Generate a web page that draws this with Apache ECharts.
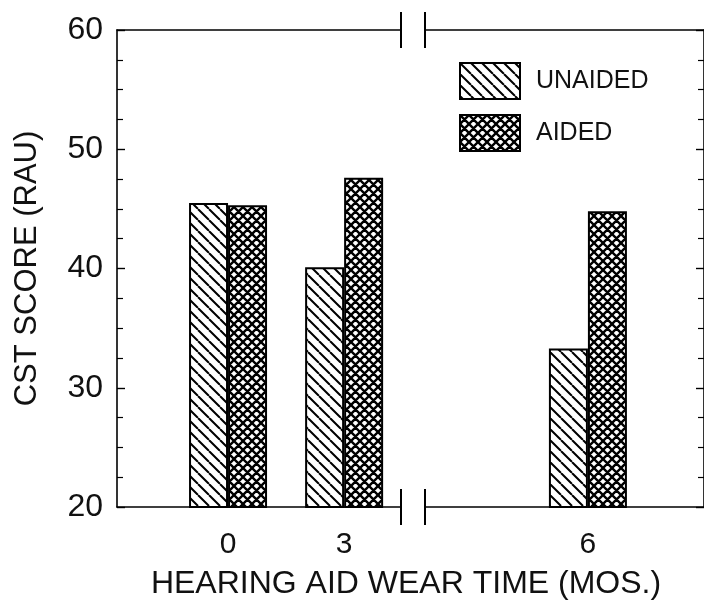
<!DOCTYPE html>
<html>
<head>
<meta charset="utf-8">
<script src="https://cdn.jsdelivr.net/npm/echarts@6/dist/echarts.min.js"></script>
<style>
  html, body { margin: 0; padding: 0; background: #fff; }
  #chart { width: 704px; height: 600px; }
</style>
</head>
<body>
<div id="chart"></div>
<script>
// Wear-time groups (months) and scores
const months = [0, 3, 6];
const unaided = [45.5, 40.1, 33.3];
const aided = [45.3, 47.6, 44.8];
const seriesNames = ['UNAIDED', 'AIDED'];
const xTitle = 'HEARING AID WEAR TIME (MOS.)';
const yTitle = 'CST SCORE (RAU)';
// months up to this value sit left of the axis break
const lastBeforeBreak = 3;

const FONT = '"Liberation Sans", Arial, Helvetica, sans-serif';
const INK = '#111';

// Fill patterns: diagonal hatch and diamond cross-hatch
function hatchPattern() {
  const s = 11;
  const c = document.createElement('canvas');
  c.width = c.height = s;
  const g = c.getContext('2d');
  g.fillStyle = '#fff';
  g.fillRect(0, 0, s, s);
  g.strokeStyle = '#000';
  g.lineWidth = 2;
  g.beginPath();
  for (const k of [-1, 0, 1]) {
    g.moveTo(k * s, 0);
    g.lineTo(k * s + s, s);
  }
  g.stroke();
  return c;
}
function crossPattern() {
  const s = 9;
  const c = document.createElement('canvas');
  c.width = c.height = s;
  const g = c.getContext('2d');
  g.fillStyle = '#fff';
  g.fillRect(0, 0, s, s);
  g.strokeStyle = '#000';
  g.lineWidth = 2.4;
  g.beginPath();
  for (const k of [-1, 0, 1]) {
    g.moveTo(k * s, 0);
    g.lineTo(k * s + s, s);
  }
  for (const k of [0, 1, 2]) {
    g.moveTo(k * s, 0);
    g.lineTo(k * s - s, s);
  }
  g.stroke();
  return c;
}
const fills = [
  { image: hatchPattern(), repeat: 'repeat' },
  { image: crossPattern(), repeat: 'repeat' }
];

const leftIdx = months.map((m, i) => i).filter(i => months[i] <= lastBeforeBreak);
const rightIdx = months.map((m, i) => i).filter(i => months[i] > lastBeforeBreak);
const pairs = (vals, idx) => idx.map(i => [months[i], vals[i]]);

const lineStyle = { color: '#000', width: 1.6 };
const breakMarkSize = [36, 2];

function xAxisDef(grid, pos, min, max, labels, symbol) {
  return {
    gridIndex: grid, type: 'value', position: pos, min: min, max: max,
    axisLine: { show: true, onZero: false, lineStyle: lineStyle, symbol: symbol, symbolSize: breakMarkSize },
    axisTick: { show: false },
    splitLine: { show: false },
    axisLabel: labels ? {
      show: true, customValues: labels, fontSize: 30, margin: 23,
      color: INK, fontFamily: FONT
    } : { show: false }
  };
}

function yAxisDef(grid, pos, withLabels) {
  const ax = {
    gridIndex: grid, type: 'value', position: pos,
    min: 20, max: 60, interval: 10,
    axisLine: { show: true, onZero: false, lineStyle: lineStyle },
    axisTick: { show: true, inside: true, length: 8, lineStyle: { color: '#000', width: 1.4 } },
    minorTick: { show: true, splitNumber: 4, length: 6, lineStyle: { color: '#000', width: 1.2 } },
    splitLine: { show: false },
    axisLabel: withLabels ? { fontSize: 32, margin: 14, color: INK, fontFamily: FONT } : { show: false }
  };
  if (withLabels) {
    ax.name = yTitle;
    ax.nameLocation = 'middle';
    ax.nameGap = 74;
    ax.nameTextStyle = { fontSize: 31, color: INK, fontFamily: FONT };
  }
  return ax;
}

function barSeries(si, vals, idx, axisIdx) {
  return {
    name: seriesNames[si], type: 'bar',
    xAxisIndex: axisIdx, yAxisIndex: axisIdx,
    data: pairs(vals, idx),
    barWidth: 39, barGap: '0%',
    itemStyle: { color: fills[si], borderColor: '#000', borderWidth: 2 },
    emphasis: { disabled: true }
  };
}

const chart = echarts.init(document.getElementById('chart'));
chart.setOption({
  animation: false,
  backgroundColor: '#fff',
  grid: [
    { left: 117, right: 303, top: 30, bottom: 93 },
    { left: 425, right: -2, top: 30, bottom: 93 }
  ],
  xAxis: [
    xAxisDef(0, 'bottom', -2.87, 4.47, leftIdx.map(i => months[i]), ['none', 'rect']),
    xAxisDef(1, 'bottom', 2, 8.85, rightIdx.map(i => months[i]), ['rect', 'none']),
    xAxisDef(0, 'top', -2.87, 4.47, null, ['none', 'rect']),
    xAxisDef(1, 'top', 2, 8.85, null, ['rect', 'none'])
  ],
  yAxis: [
    yAxisDef(0, 'left', true),
    yAxisDef(1, 'right', false)
  ],
  legend: {
    data: seriesNames,
    orient: 'vertical', left: 459, top: 62,
    itemWidth: 60, itemHeight: 36, itemGap: 14,
    icon: 'rect', padding: 0, selectedMode: false,
    itemStyle: { borderColor: '#000', borderWidth: 2 },
    textStyle: { fontSize: 25, color: INK, fontFamily: FONT, padding: [0, 0, 0, 11] }
  },
  graphic: [{
    type: 'text', x: 406, y: 584,
    style: {
      text: xTitle, fill: INK, fontSize: 32, fontFamily: FONT,
      align: 'center', verticalAlign: 'middle',
      textAlign: 'center', textVerticalAlign: 'middle'
    }
  }],
  series: [
    barSeries(0, unaided, leftIdx, 0),
    barSeries(1, aided, leftIdx, 0),
    barSeries(0, unaided, rightIdx, 1),
    barSeries(1, aided, rightIdx, 1)
  ]
});
</script>
</body>
</html>
